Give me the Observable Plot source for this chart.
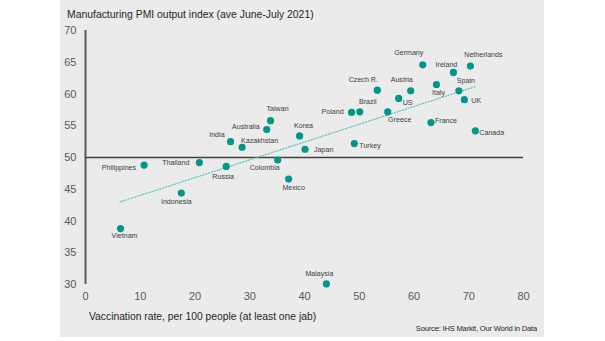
<!DOCTYPE html>
<html>
<head>
<meta charset="utf-8">
<script src="https://cdn.jsdelivr.net/npm/d3@7"></script>
<script src="https://cdn.jsdelivr.net/npm/@observablehq/plot@0.6"></script>
<style>
  html, body { margin: 0; padding: 0; background: #ffffff; width: 605px; height: 341px; overflow: hidden; }
  #panel { position: absolute; left: 60px; top: 0px; width: 484px; height: 337px; background: #ebebeb;
           font-family: "Liberation Sans", Arial, sans-serif; }
  #title { position: absolute; left: 7px; top: 8px; font-size: 10.4px; line-height: 14px; color: #262626; white-space: nowrap; }
  #chart { position: absolute; left: 0px; top: 22px; }
  #xlabel { position: absolute; left: 29px; top: 310px; font-size: 10.3px; line-height: 14px; color: #262626; white-space: nowrap; }
  #source { position: absolute; right: 7px; top: 324px; font-size: 7.6px; line-height: 10px; color: #262626; white-space: nowrap; letter-spacing: -0.2px; }
</style>
</head>
<body>
<div id="panel">
  <div id="title">Manufacturing PMI output index (ave June-July 2021)</div>
  <div id="chart"></div>
  <div id="xlabel">Vaccination rate, per 100 people (at least one jab)</div>
  <div id="source">Source: IHS Markit, Our World in Data</div>
</div>
<script>
const countries = ["Vietnam","Philippines","Indonesia","Thailand","Russia","India","Kazakhstan","Australia","Taiwan","Colombia","Mexico","Korea","Japan","Malaysia","Poland","Turkey","Brazil","Czech R.","Greece","US","Austria","Germany","France","Italy","Ireland","Spain","UK","Netherlands","Canada"];
const vaccination = [6.4,10.7,17.5,20.8,25.7,26.5,28.6,33.1,33.8,35.1,37.1,39.1,40.1,44.0,48.6,49.1,50.1,53.3,55.2,57.2,59.4,61.6,63.1,64.1,67.2,68.2,69.2,70.3,71.2];
const pmi = [38.8,48.8,44.4,49.2,48.6,52.5,51.6,54.4,55.8,49.6,46.6,53.4,51.3,30.1,57.1,52.2,57.2,60.6,57.2,59.3,60.5,64.6,55.5,61.5,63.4,60.5,59.1,64.4,54.2];
const trendX = [6.3, 71.3];
const trendY = [43.0, 61.2];
const xTicks = [0,10,20,30,40,50,60,70,80];
const yTicks = [30,35,40,45,50,55,60,65,70];

// label placement (layout only): [textAnchor, dx, dy]
const labelPlacement = {
  "Vietnam": ["middle", 4, 7], "Philippines": ["end", -8, 3], "Indonesia": ["middle", -5, 9],
  "Thailand": ["end", -10, 0], "Russia": ["middle", -3, 10], "India": ["end", -6, -7],
  "Kazakhstan": ["start", -1, -7], "Australia": ["end", -7, -3], "Taiwan": ["middle", 7, -12],
  "Colombia": ["middle", -13, 8], "Mexico": ["middle", 5, 9], "Korea": ["middle", 4, -10],
  "Japan": ["start", 9, 0], "Malaysia": ["middle", -7, -10], "Poland": ["end", -8, -1],
  "Turkey": ["start", 5, 2], "Brazil": ["middle", 8, -10], "Czech R.": ["middle", -14, -10],
  "Greece": ["middle", 12, 8], "US": ["start", 4, 4], "Austria": ["middle", -9, -11],
  "Germany": ["middle", -14, -12], "France": ["start", 4, -2], "Italy": ["middle", 2, 8],
  "Ireland": ["middle", -7, -8], "Spain": ["middle", 7, -10], "UK": ["start", 7, 1],
  "Netherlands": ["middle", 13, -11], "Canada": ["start", 4, 2]
};

const data = countries.map((c, i) => ({country: c, x: vaccination[i], y: pmi[i]}));
const trend = trendX.map((x, i) => ({x, y: trendY[i]}));

const teal = "#00968a";
const font = "Liberation Sans, Arial, sans-serif";

const labelMarks = data.map(d => {
  const [anchor, dx, dy] = labelPlacement[d.country];
  return Plot.text([d], {x: "x", y: "y", text: "country", textAnchor: anchor, dx, dy,
    fontSize: 7.1, fill: "#404040", fontFamily: font});
});

const chart = Plot.plot({
  width: 484,
  height: 285,
  marginLeft: 25,
  marginRight: 21,
  marginTop: 8,
  marginBottom: 23,
  style: {background: "transparent", fontFamily: font, overflow: "visible"},
  x: {domain: [0, 80]},
  y: {domain: [30, 70]},
  marks: [
    Plot.axisX({ticks: xTicks, tickSize: 0, tickPadding: 8, fontSize: 11, color: "#595959", label: null}),
    Plot.axisY({ticks: yTicks, tickSize: 0, tickPadding: 9, fontSize: 11, color: "#595959", label: null}),
    Plot.ruleX([0], {stroke: "#595959", strokeWidth: 2}),
    Plot.ruleY([50], {stroke: "#404040", strokeWidth: 1.3}),
    Plot.line(trend, {x: "x", y: "y", stroke: "#5cc4bc", strokeWidth: 1.2, strokeDasharray: "1.2,1.8"}),
    Plot.dot(data, {x: "x", y: "y", r: 3.6, fill: teal, stroke: "none"}),
    ...labelMarks
  ]
});
document.getElementById("chart").appendChild(chart);
</script>
</body>
</html>
